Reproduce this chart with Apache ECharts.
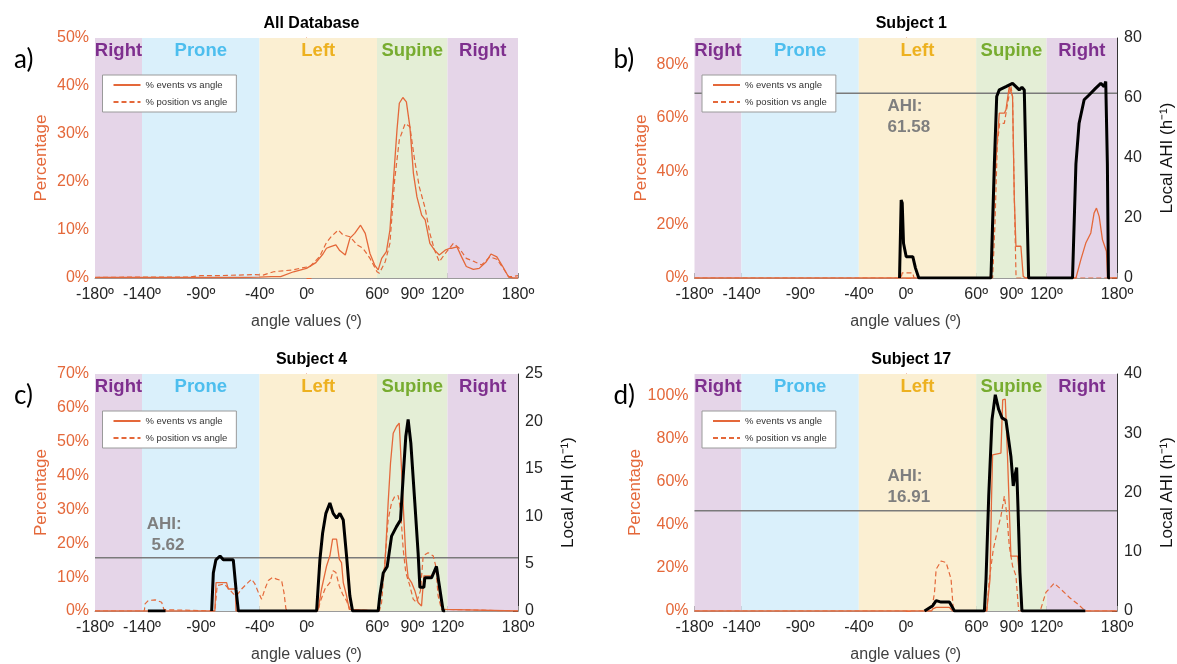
<!DOCTYPE html>
<html>
<head>
<meta charset="utf-8">
<script src="https://cdn.jsdelivr.net/npm/echarts@6/dist/echarts.min.js"></script>
<style>html,body{margin:0;padding:0;background:#fff;}#chart{width:1177px;height:664px;}</style>
</head>
<body>
<div id="chart"></div>
<script>
// ---------- DATA ----------
const angleTicks = [-180, -140, -90, -40, 0, 60, 90, 120, 180];
const regionBounds = [-180, -140, -40, 60, 120, 180];
const regionNames = ['Right', 'Prone', 'Left', 'Supine', 'Right'];

// Panel a) All Database
const aEventsX = [-180,-140,-90,-60,-40,-30,-22,-11,0,8,14,17,20,25,28,33,37,41,46,50,54,58,61,64,68,71,74,77,79,82,85,88,91,94,98,101,105,109,113,118,122,124,128,132,136,142,147,153,157,162,167,172,176,180];
const aEventsY = [0.1,0.1,0.1,0.1,0.2,0.3,0.3,1.3,2.0,3.2,5.0,6.2,6.5,6.9,5.8,4.8,8.3,9.3,11.0,9.3,5.1,2.7,1.7,4.1,5.5,10,20.4,30.8,36.4,37.6,36.7,31.5,21.8,16.9,13.1,12.1,7.2,5.8,4.8,5.8,6.2,6.2,6.5,4.4,2.4,1.8,2.0,3.4,5.0,4.4,2.4,0.2,0,0];
const aPosX = [-180,-140,-100,-90,-75,-60,-45,-37,-28,-20,-11,-6,3,11,17,21,27,31,37,43,48,54,60,62,67,71,75,79,84,88,92,96,101,105,109,113,118,125,130,136,143,149,156,162,167,172,176,180];
const aPosY = [0.1,0.2,0.2,0.5,0.5,0.6,0.7,0.6,1.3,1.5,1.7,2.0,2.4,4.4,7.4,8.6,10,9,8.6,6.9,6.2,4.1,1.3,1.0,3.4,7.2,20.4,28.8,32.2,31.5,24.6,19,14.5,9.3,5.8,3.4,5.1,7.2,6.2,4.1,3.4,2.7,4.4,3.9,2.2,0.3,0.3,0.5];

// Panel b) Subject 1
const bEventsX = [-180,72,74,76,79.7,84,85.4,88.2,89.6,91,92.5,93.9,98.1,100.1,102,145,149.2,153.4,157.7,160.5,162.5,164.8,167.6,171,172,180];
const bEventsY = [0,0,10,39,61.8,61.8,63.1,71.8,72.5,68.1,30,11.9,11.9,0.6,0,0,6.9,13.1,16.9,24.4,26.2,23.1,14.4,10,0,0];
const bPosX = [-180,-4,-3,6,7,74,76,78,80,84,87,89.6,91,92.5,94,180];
const bPosY = [0,0,1.9,1.9,0,0,20,50,58,58,66,72,68,30,0,0];
const bAhiX = [-5.3,-3.9,-3,-1.9,0.4,6,8.3,11.1,72.6,75.5,77.5,79.7,85.4,91,93.9,96.7,99,101,102.4,104.7,142.1,145,147.7,152,156.2,161.9,166.2,169,170.4,171.8,172.7,174];
const bAhiY = [0,26,25,11.6,7.1,7.1,3.3,0,0,38,60.5,62.7,63.8,64.9,63.8,62.7,63.6,62.7,38,0,0,38,51.6,59.4,61,63.3,64.9,63.8,65.5,38,0,0];
const bMeanAhi = 61.58;

// Panel c) Subject 4
const cEventsX = [-180,-78,-77,-75,-68,-66.6,-62.3,-60.5,-60,9,10,12.8,17.1,19.9,22.2,25.6,27.9,29.8,31.3,34.1,36.4,37.5,61,62.4,66.7,69.5,71.5,73.8,76.6,78.9,80.9,82.9,84.5,86.5,89.4,92.2,95,97.9,99.3,99.9,106.4,110.6,113.5,116.3,118,180];
const cEventsY = [0,0,8.4,8.4,8.4,6.5,6.5,6.5,0,0,0.6,6.5,13.3,16.3,21.2,21.2,15.3,14.3,8.4,4.5,0.5,0,0,0.5,13.3,32,43.7,52.5,54.5,55.5,41.8,27,16.3,9.9,8.4,6,2.5,1.5,1.5,10.4,10.4,12.3,4.5,0.5,0,0];
const cPosX = [-180,-138,-137.4,-134.6,-128.9,-123.3,-121.3,-120,-78,-76,-70,-66,-62,-59.5,-55.2,-51,-46.7,-43.9,-41,-38.2,-35.4,-32.5,-28.9,-25.4,-21.2,-19.2,-17.5,-16,10,11.4,15.7,19.9,22.7,25,27.9,30.7,34.1,36.9,38,62,63.9,67.5,69.5,72.4,75.2,78,80,82.3,84.5,88,90.8,93.6,97,99.3,103.5,107.8,110,112,114.9,116,180];
const cPosY = [0,0,2.1,3.1,3.3,2.6,0.4,0,0,7.5,8,6.5,5,4.5,6.5,8,9.4,8,5.5,3.5,6.5,9,9.9,9.4,9,5.5,0.6,0,0,2.5,6.5,8.4,11.9,11.4,7.4,5.0,3.0,0.5,0,0,2.5,18.2,27,32,33.9,34.1,30,18.2,11.4,7.4,3.5,2.5,6,16.3,17.2,16.3,13.3,4.5,0.5,0,0];
const cAhiX = [-135,-120,-119,-81,-80.7,-79.3,-77.1,-73.6,-70.8,-66.6,-62.3,-60,-58,8.6,11.4,13.7,16.5,19.9,22.7,25.6,28.4,31.3,34.1,36.9,39.2,61,62.4,65.3,68.7,72.4,76.6,80,82.3,84.5,86.5,88.8,92.2,95,96.5,99.9,100.7,106.4,110.6,113.5,116.3,118];
const cAhiY = [0,0,null,null,0,4.0,5.4,5.8,5.4,5.4,5.4,2.3,0,0,5.4,8.2,10.3,11.4,10.3,9.8,10.3,9.6,5.8,1.6,0,0,1.6,4.0,4.7,7.9,8.9,9.6,14.2,18.4,20.2,17.7,11.4,6.1,2.5,2.5,3.5,3.5,4.7,2.3,0,0];
const cMeanAhi = 5.62;

// Panel d) Subject 17
const dEventsX = [-180,22,23,25.9,37.2,40,69,71.8,73,74,81.1,82.6,84.8,86.8,89.6,95.3,97.3,99.6,180];
const dEventsY = [0,0,1,1.7,1.7,0,0,14.8,50,72.5,73.3,98,98.3,70.2,25.5,25.5,14.8,0,0];
const dPosX = [-180,22,24.5,25.9,30.1,34.4,38.6,40.6,69,71.2,74.6,78.3,81.1,84,86,88.2,91,93.9,96.2,113,115.1,119.4,126.5,132.2,136.4,140,146,152,155,180];
const dPosY = [0,0,8.6,19.4,23.2,22.5,14.8,0,0,14.8,28.6,37.9,44,53.3,45.6,30.2,20.9,16.3,0,0,1,8.6,12.9,10.1,7.9,6,3.5,0.5,0,0];
const dAhiX = [16,23,25.9,30.1,37.2,41.5,67,68.4,70.7,73.5,76.3,79.2,82,85.4,87.1,89.6,91.6,93,94.5,95.6,97.3,99,153];
const dAhiY = [0,0.9,1.75,1.5,1.5,0,0,5.4,19.4,32.3,36.5,34,32.6,32.2,32.3,26.1,21.1,22.8,24.2,17.7,6.5,0,0];
const dMeanAhi = 16.91;

const panelTitles = ['All Database', 'Subject 1', 'Subject 4', 'Subject 17'];
const panelLetters = ['a)', 'b)', 'c)', 'd)'];
const leftMax = [50, 90, 70, 110];
const leftTicks = [[0,10,20,30,40,50],[0,20,40,60,80],[0,10,20,30,40,50,60,70],[0,20,40,60,80,100]];
const rightMax = [80, 80, 25, 40];
const rightInterval = [20, 20, 5, 10];

// ---------- STYLE / LAYOUT ----------
const ORANGE = '#E4683A';
const FONT = 'Liberation Sans, Arial, sans-serif';
const regionFill = {Right: '#E5D5E8', Prone: '#DAF0FB', Left: '#FBEFD2', Supine: '#E4EED6'};
const regionText = {Right: '#7E2F8E', Prone: '#4DBEEE', Left: '#EDB120', Supine: '#77AC30'};
const grids = [
  {left: 95, top: 38, width: 423, height: 240},
  {left: 694.5, top: 38, width: 423.5, height: 240},
  {left: 95, top: 374, width: 423, height: 238},
  {left: 694.5, top: 374, width: 423.5, height: 238}
];
const ahiLabelPos = [null, [-15.5, 53.7], [-136, 8.0], [-15.5, 20.9]];

const pairs = (xs, ys) => xs.map((x, i) => [x, ys[i] === null ? '-' : ys[i]]);

const panels = [
  {events: pairs(aEventsX, aEventsY), pos: pairs(aPosX, aPosY), ahi: null, mean: null},
  {events: pairs(bEventsX, bEventsY), pos: pairs(bPosX, bPosY), ahi: pairs(bAhiX, bAhiY), mean: bMeanAhi},
  {events: pairs(cEventsX, cEventsY), pos: pairs(cPosX, cPosY), ahi: pairs(cAhiX, cAhiY), mean: cMeanAhi},
  {events: pairs(dEventsX, dEventsY), pos: pairs(dPosX, dPosY), ahi: pairs(dAhiX, dAhiY), mean: dMeanAhi}
];

const regionsData = regionNames.map((n, i) => [
  {xAxis: regionBounds[i], name: n, itemStyle: {color: regionFill[n]}, label: {color: regionText[n]}},
  {xAxis: regionBounds[i + 1]}
]);

const xAxes = [], yAxes = [], series = [], titles = [], legends = [];
grids.forEach((g, i) => {
  xAxes.push({
    type: 'value', gridIndex: i, min: -180, max: 180,
    name: 'angle values (º)', nameLocation: 'middle', nameGap: 36,
    nameTextStyle: {fontSize: 16, color: '#404040', fontFamily: FONT},
    axisLine: {show: true, lineStyle: {color: '#9a9a9a', width: 1}},
    axisTick: {show: true, inside: true, length: 5, customValues: angleTicks, lineStyle: {color: '#8a8a8a'}},
    axisLabel: {customValues: angleTicks, formatter: v => v + 'º', fontSize: 16, color: '#262626', margin: 9, fontFamily: FONT},
    splitLine: {show: false}
  });
  yAxes.push({
    type: 'value', gridIndex: i, position: 'left', min: 0, max: leftMax[i],
    name: 'Percentage', nameLocation: 'middle', nameGap: 45, nameRotate: 90,
    nameTextStyle: {fontSize: 17, color: ORANGE, fontFamily: FONT},
    axisLine: {show: true, lineStyle: {color: ORANGE, width: 1}},
    axisTick: {show: true, inside: true, length: 5, customValues: leftTicks[i], lineStyle: {color: ORANGE}},
    axisLabel: {customValues: leftTicks[i], formatter: '{value}%', fontSize: 16, color: ORANGE, margin: 6, fontFamily: FONT},
    splitLine: {show: false}
  });
  yAxes.push({
    type: 'value', gridIndex: i, position: 'right', min: 0, max: rightMax[i], interval: rightInterval[i],
    show: i > 0,
    name: 'Local AHI (h⁻¹)', nameLocation: 'middle', nameGap: 42, nameRotate: 90,
    nameTextStyle: {fontSize: 17, color: '#111', fontFamily: FONT},
    axisLine: {show: true, lineStyle: {color: '#333', width: 1}},
    axisTick: {show: true, inside: true, length: 5, lineStyle: {color: '#333'}},
    axisLabel: {fontSize: 16, color: '#262626', margin: 7, fontFamily: FONT},
    splitLine: {show: false}
  });
  const p = panels[i];
  series.push({
    type: 'line', xAxisIndex: i, yAxisIndex: 2 * i, data: [[-180, 0]], symbol: 'none',
    lineStyle: {opacity: 0}, silent: true, z: 0,
    markArea: {silent: true, data: regionsData,
      label: {show: true, position: 'insideTop', distance: 3, fontSize: 18.5, fontWeight: 'bold', fontFamily: FONT}}
  });
  if (p.mean !== null) {
    series.push({
      type: 'line', xAxisIndex: i, yAxisIndex: 2 * i + 1, data: [[-180, p.mean], [180, p.mean]],
      symbol: 'none', lineStyle: {color: '#7a7a7a', width: 1.6}, z: 2, silent: true,
      markPoint: {
        symbolSize: 0, silent: true,
        data: [{coord: ahiLabelPos[i]}],
        label: {show: true, position: 'right', distance: 0, formatter: (i === 2 ? 'AHI:\n ' : 'AHI:\n') + p.mean.toFixed(2),
          color: '#7f7f7f', fontSize: 17, fontWeight: 'bold', lineHeight: 21, fontFamily: FONT}
      }
    });
  }
  series.push({
    name: '% position vs angle', type: 'line', xAxisIndex: i, yAxisIndex: 2 * i, data: p.pos,
    symbol: 'none', showSymbol: false, lineStyle: {color: ORANGE, width: 1.2, type: [5, 3]}, itemStyle: {color: ORANGE}, z: 3
  });
  series.push({
    name: '% events vs angle', type: 'line', xAxisIndex: i, yAxisIndex: 2 * i, data: p.events,
    symbol: 'none', showSymbol: false, lineStyle: {color: ORANGE, width: 1.3}, itemStyle: {color: ORANGE}, z: 3
  });
  if (p.ahi) {
    series.push({
      name: 'Local AHI', type: 'line', xAxisIndex: i, yAxisIndex: 2 * i + 1, data: p.ahi,
      symbol: 'none', connectNulls: false, lineStyle: {color: '#000', width: 3}, z: 4
    });
  }
  titles.push({text: panelTitles[i], left: g.left + g.width / 2, top: g.top - 27, textAlign: 'center',
    textStyle: {fontSize: 16, fontWeight: 'bold', color: '#000', fontFamily: FONT}});
  titles.push({text: panelLetters[i], left: g.left - 86, top: g.top + 4,
    textStyle: {fontSize: 26, fontWeight: 'normal', color: '#000', fontFamily: 'Lato, sans-serif'}});
  legends.push({
    data: ['% events vs angle', '% position vs angle'], left: g.left + 7.5, top: g.top + 37,
    orient: 'vertical', itemWidth: 27, itemHeight: 8, itemGap: 7, padding: [5, 9, 5, 10],
    backgroundColor: '#fff', borderColor: '#9a9a9a', borderWidth: 1, selectedMode: false,
    itemStyle: {opacity: 0, borderWidth: 0},
    textStyle: {fontSize: 9.5, color: '#333', fontFamily: FONT}
  });
});

const chart = echarts.init(document.getElementById('chart'), null, {renderer: 'canvas'});
chart.setOption({
  animation: false,
  backgroundColor: '#fff',
  textStyle: {fontFamily: FONT},
  title: titles,
  legend: legends,
  grid: grids,
  xAxis: xAxes,
  yAxis: yAxes,
  series: series
});
</script>
</body>
</html>
